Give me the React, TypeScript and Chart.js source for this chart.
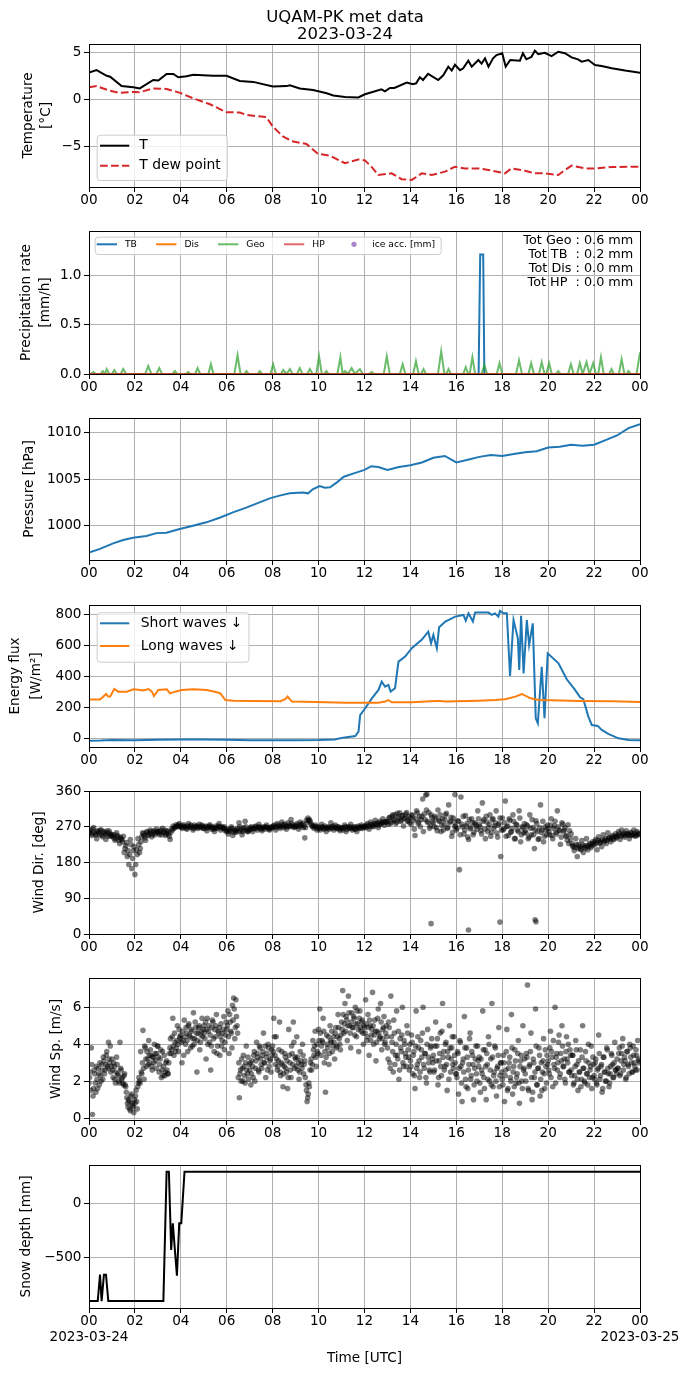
import React, { useEffect, useRef } from 'react';
import { Chart, registerables } from 'chart.js';

Chart.register(...registerables);

const FONT = 'DejaVu Sans';
Chart.defaults.font.family = FONT;
Chart.defaults.color = '#000';

// ---------------- DATA ----------------
const TITLE_LINES = ['UQAM-PK met data', '2023-03-24'];
const X_TICKS = [0, 2, 4, 6, 8, 10, 12, 14, 16, 18, 20, 22, 24];
const X_TICK_LABELS = ['00', '02', '04', '06', '08', '10', '12', '14', '16', '18', '20', '22', '00'];
const DATE_LABELS = ['2023-03-24', '2023-03-25'];

const tempHours = [0, 0.33, 0.77, 0.92, 1.42, 1.93, 2.21, 2.8, 3.02, 3.38, 3.67, 3.89, 4.25, 4.54, 5.4, 5.99, 6.57, 7.15, 8.01, 8.6, 8.75, 9.18, 9.76, 10.35, 10.64, 11.15, 11.73, 12.02, 12.74, 12.89, 13.11, 13.3, 13.84, 14.1, 14.25, 14.41, 14.55, 14.77, 15.21, 15.43, 15.65, 15.8, 15.94, 16.16, 16.3, 16.52, 16.67, 16.96, 17.1, 17.25, 17.4, 17.6, 17.75, 18.0, 18.15, 18.35, 18.77, 18.9, 19.05, 19.27, 19.42, 19.57, 19.85, 20.15, 20.44, 20.73, 21.02, 21.3, 21.46, 21.75, 22.04, 22.33, 22.77, 23.35, 24];
const tempValues = [2.83, 3.1, 2.5, 2.4, 1.4, 1.28, 1.16, 2.05, 2.0, 2.7, 2.7, 2.34, 2.45, 2.6, 2.5, 2.5, 1.95, 1.85, 1.35, 1.4, 1.5, 1.15, 0.98, 0.64, 0.4, 0.25, 0.2, 0.53, 1.06, 0.85, 1.2, 1.2, 1.77, 1.6, 1.7, 2.34, 2.05, 2.7, 2.05, 2.55, 3.47, 3.05, 3.67, 3.1, 3.3, 4.1, 3.47, 4.18, 3.8, 4.36, 3.47, 4.36, 4.7, 4.9, 3.47, 4.18, 4.1, 4.9, 4.25, 4.5, 5.17, 4.8, 4.95, 4.6, 5.06, 4.9, 4.45, 4.25, 4.0, 4.18, 3.65, 3.55, 3.3, 3.05, 2.83];
const dewHours = [0, 0.33, 0.92, 1.35, 1.93, 2.2, 2.8, 3.38, 3.97, 4.54, 5.27, 5.99, 6.57, 6.86, 7.73, 8.0, 8.46, 8.9, 9.47, 9.97, 10.5, 11.15, 11.73, 12.02, 12.3, 12.6, 13.18, 13.62, 14.06, 14.5, 14.93, 15.51, 15.94, 16.38, 16.96, 17.4, 18.12, 18.4, 18.98, 19.42, 19.86, 20.44, 20.73, 21.02, 21.6, 22.04, 22.77, 24];
const dewValues = [1.28, 1.4, 0.9, 0.68, 0.78, 0.75, 1.15, 1.1, 0.68, 0.1, -0.53, -1.38, -1.4, -1.67, -1.9, -2.9, -3.98, -4.5, -4.75, -5.8, -6.0, -6.8, -6.4, -6.5, -7.17, -8.05, -7.88, -8.5, -8.58, -7.88, -8.05, -7.7, -7.17, -7.35, -7.35, -7.52, -7.88, -7.35, -7.6, -7.88, -7.88, -8.05, -7.52, -7.06, -7.35, -7.35, -7.2, -7.17];
const tempTicks = [-5, 0, 5];
const tempTickLabels = ['\u22125', '0', '5'];

const tbSeries = [[0, 0], [16.97, 0], [17.04, 1.21], [17.17, 1.21], [17.22, 0], [24, 0]];
const disSeries = [[0, 0], [24, 0]];
const hpSeries = [[0, 0], [24, 0]];
const geoSeries = [
  [0, 0], [0.08, 0], [0.19, 0.02], [0.3, 0], [0.5, 0], [0.6, 0.03], [0.7, 0], [0.77, 0.05], [0.88, 0],
  [1.0, 0], [1.1, 0.04], [1.22, 0], [1.38, 0], [1.49, 0.05], [1.62, 0], [2.45, 0], [2.58, 0.08], [2.72, 0],
  [2.94, 0], [3.06, 0.06], [3.18, 0], [3.63, 0], [3.74, 0.03], [3.85, 0], [4.22, 0], [4.32, 0.02], [4.42, 0],
  [4.62, 0], [4.73, 0.06], [4.84, 0], [5.2, 0], [5.31, 0.1], [5.42, 0], [6.33, 0], [6.47, 0.19], [6.6, 0],
  [6.76, 0], [6.86, 0.03], [6.96, 0], [7.34, 0], [7.44, 0.03], [7.54, 0], [7.9, 0], [8.02, 0.1], [8.14, 0],
  [8.36, 0], [8.46, 0.04], [8.6, 0], [8.75, 0.05], [8.87, 0], [9.06, 0], [9.18, 0.06], [9.3, 0],
  [9.5, 0], [9.62, 0.05], [9.74, 0], [9.9, 0], [10.02, 0.18], [10.14, 0], [10.24, 0], [10.34, 0.03], [10.44, 0],
  [10.82, 0], [10.95, 0.17], [11.05, 0], [11.15, 0.03], [11.28, 0], [11.44, 0.06], [11.58, 0], [11.8, 0.05], [11.92, 0],
  [12.2, 0], [12.31, 0.02], [12.42, 0], [12.84, 0], [12.97, 0.18], [13.1, 0], [13.54, 0], [13.66, 0.1], [13.78, 0],
  [14.12, 0], [14.24, 0.13], [14.36, 0], [14.47, 0], [14.57, 0.05], [14.68, 0], [15.2, 0], [15.34, 0.23], [15.48, 0],
  [15.56, 0], [15.66, 0.05], [15.76, 0], [16.3, 0], [16.41, 0.07], [16.52, 0], [16.58, 0], [16.7, 0.17], [16.82, 0],
  [17.1, 0], [17.22, 0.09], [17.34, 0], [17.76, 0], [17.88, 0.11], [18.0, 0], [18.6, 0], [18.73, 0.14], [18.86, 0],
  [19.14, 0], [19.26, 0.11], [19.38, 0], [19.6, 0], [19.72, 0.12], [19.84, 0], [19.92, 0], [20.04, 0.11], [20.16, 0],
  [20.34, 0], [20.44, 0.03], [20.54, 0], [20.87, 0], [20.99, 0.1], [21.11, 0], [21.26, 0], [21.38, 0.11], [21.5, 0],
  [21.67, 0.12], [21.8, 0], [21.96, 0.11], [22.08, 0], [22.18, 0], [22.3, 0.17], [22.42, 0], [22.66, 0], [22.76, 0.05], [22.86, 0],
  [23.08, 0], [23.2, 0.15], [23.32, 0], [23.42, 0], [23.5, 0.03], [23.6, 0], [23.85, 0], [24, 0.22],
];
const precipTotals = ['Tot Geo : 0.6 mm', 'Tot TB  : 0.2 mm', 'Tot Dis : 0.0 mm', 'Tot HP  : 0.0 mm'];
const precipTicks = [0, 0.5, 1.0];
const precipTickLabels = ['0.0', '0.5', '1.0'];

const pressureSeries = [
  [0, 997.1], [0.48, 997.5], [1.05, 998.1], [1.49, 998.46], [1.92, 998.7], [2.5, 998.9], [2.94, 999.2], [3.37, 999.25],
  [3.95, 999.64], [4.53, 1000], [5.11, 1000.36], [5.69, 1000.86], [6.27, 1001.43], [6.85, 1001.94], [7.43, 1002.5],
  [7.87, 1002.94], [8.3, 1003.23], [8.74, 1003.48], [9.32, 1003.58], [9.54, 1003.48], [9.76, 1003.94], [10.05, 1004.26],
  [10.27, 1004.09], [10.5, 1004.12], [10.8, 1004.66], [11.1, 1005.27], [11.5, 1005.6], [12, 1006.0], [12.3, 1006.4],
  [12.6, 1006.3], [13, 1006.0], [13.5, 1006.3], [14, 1006.5], [14.5, 1006.8], [15, 1007.3], [15.5, 1007.5], [16, 1006.8],
  [16.5, 1007.1], [17, 1007.4], [17.5, 1007.6], [18, 1007.5], [18.5, 1007.7], [19, 1007.9], [19.5, 1008.0], [20, 1008.4],
  [20.5, 1008.5], [21, 1008.7], [21.5, 1008.6], [22, 1008.7], [22.5, 1009.2], [23, 1009.7], [23.5, 1010.5], [24, 1010.9],
];
const pressureTicks = [1000, 1005, 1010];
const pressureTickLabels = ['1000', '1005', '1010'];

const shortWaveSeries = [
  [0, -15], [0.5, -14], [1, -11], [2, -13], [3, -10], [4, -8], [5, -8], [6, -9], [7, -12], [8, -12], [9, -12], [10, -11],
  [10.7, -8], [11.0, 2], [11.15, 6], [11.6, 15], [11.74, 43], [11.81, 150], [12.03, 194], [12.32, 258], [12.61, 312],
  [12.75, 366], [12.9, 333], [13.04, 344], [13.14, 301], [13.33, 323], [13.48, 495], [13.77, 527], [14.06, 581],
  [14.49, 635], [14.78, 688], [14.9, 613], [15.0, 667], [15.15, 581], [15.25, 716], [15.52, 753], [15.95, 785],
  [16.31, 796], [16.41, 759], [16.53, 806], [16.72, 753], [16.82, 811], [17.4, 811], [17.54, 796], [17.69, 806],
  [17.83, 785], [17.9, 822], [18.05, 806], [18.2, 806], [18.34, 402], [18.49, 763], [18.68, 645], [18.74, 441],
  [18.82, 790], [18.93, 419], [19.07, 763], [19.17, 602], [19.33, 742], [19.46, 129], [19.55, 97], [19.72, 462],
  [19.84, 129], [19.98, 548], [20.45, 484], [20.81, 381], [21.17, 312], [21.39, 265], [21.53, 252], [21.75, 140],
  [21.9, 86], [22.16, 80], [22.33, 54], [22.62, 28], [23.06, 0], [23.5, -11], [24, -13],
];
const longWaveSeries = [
  [0, 251], [0.48, 251], [0.55, 258], [0.74, 286], [0.84, 269], [0.92, 269], [1.1, 318], [1.28, 301], [1.64, 301],
  [1.94, 316], [2.22, 312], [2.36, 308], [2.59, 318], [2.74, 301], [2.83, 273], [3.02, 312], [3.39, 316], [3.53, 290],
  [3.75, 301], [4.04, 312], [4.55, 316], [5.13, 312], [5.57, 297], [5.72, 290], [5.94, 247], [6.3, 243], [7.17, 241],
  [8.33, 239], [8.55, 252], [8.65, 269], [8.84, 237], [9.93, 234], [11.16, 230], [12.6, 230], [12.9, 237], [13.04, 247],
  [13.19, 232], [14.06, 232], [15.08, 241], [15.3, 241], [15.52, 237], [16.97, 243], [17.7, 247], [18.13, 252],
  [18.57, 269], [18.86, 286], [19.23, 258], [19.59, 247], [20.17, 245], [21.33, 241], [22.78, 239], [24, 234],
];
const fluxTicks = [0, 200, 400, 600, 800];
const fluxTickLabels = ['0', '200', '400', '600', '800'];

// wind direction, samples read per hour (two interleaved readings)
const windDirByHour = [
  [255, 262, 248, 268, 252, 240, 258, 250, 262, 245, 256, 238, 252, 260, 247],
  [250, 242, 236, 255, 244, 228, 240, 232, 205, 222, 195, 175, 238, 165, 210],
  [150, 212, 240, 205, 232, 255, 248, 236, 258, 250, 262, 245, 256, 250, 264],
  [258, 250, 262, 266, 255, 248, 260, 252, 238, 265, 272, 268, 275, 270, 278],
  [272, 266, 275, 270, 264, 278, 268, 272, 262, 274, 270, 266, 276, 268, 272],
  [266, 272, 260, 270, 275, 264, 268, 258, 272, 266, 278, 262, 270, 266, 260],
  [258, 252, 264, 270, 248, 262, 256, 266, 280, 260, 250, 268, 284, 262, 258],
  [264, 270, 258, 266, 272, 262, 276, 268, 260, 270, 264, 274, 268, 262, 270],
  [268, 274, 262, 278, 270, 266, 282, 272, 276, 264, 280, 270, 288, 274, 268],
  [270, 278, 264, 282, 274, 268, 242, 286, 292, 288, 278, 270, 266, 274, 262],
  [270, 262, 276, 266, 272, 258, 268, 264, 280, 270, 262, 274, 266, 270, 260],
  [268, 262, 274, 258, 270, 266, 276, 262, 270, 264, 258, 272, 266, 274, 270],
  [272, 268, 278, 264, 282, 274, 270, 286, 276, 268, 284, 278, 290, 274, 282],
  [284, 292, 278, 296, 288, 300, 282, 294, 305, 286, 298, 290, 302, 284, 296],
  [292, 300, 286, 248, 310, 278, 296, 288, 340, 302, 350, 284, 306, 272, 294],
  [280, 296, 268, 312, 284, 258, 290, 276, 300, 266, 325, 284, 246, 292, 270],
  [262, 285, 162, 345, 270, 252, 298, 278, 238, 265, 290, 250, 280, 272, 310],
  [275, 260, 330, 288, 240, 282, 268, 300, 256, 290, 272, 310, 244, 278, 195],
  [292, 265, 335, 270, 248, 286, 258, 300, 240, 276, 262, 310, 232, 270, 255],
  [260, 275, 240, 300, 250, 268, 215, 285, 258, 240, 325, 262, 232, 270, 250],
  [265, 250, 290, 240, 272, 256, 310, 262, 226, 280, 258, 268, 248, 275, 260],
  [252, 220, 210, 240, 195, 225, 215, 235, 205, 222, 240, 212, 228, 218, 232],
  [225, 238, 212, 245, 230, 220, 250, 235, 228, 255, 242, 232, 248, 238, 252],
  [245, 258, 238, 262, 250, 244, 260, 252, 240, 256, 248, 262, 246, 258, 250],
];
const windDirByHourB = [
  [258, 252, 264, 256, 250, 260, 254, 262, 248, 257, 251, 259, 246, 255, 250],
  [246, 250, 240, 248, 236, 244, 238, 246, 215, 230, 210, 200, 225, 190, 220],
  [175, 200, 225, 215, 245, 252, 242, 256, 248, 254, 258, 250, 260, 255, 258],
  [254, 258, 250, 256, 262, 252, 258, 246, 256, 262, 266, 270, 272, 274, 270],
  [268, 272, 270, 266, 272, 270, 274, 268, 266, 270, 272, 268, 270, 274, 266],
  [270, 266, 268, 272, 268, 270, 264, 266, 268, 272, 270, 268, 266, 270, 264],
  [262, 258, 260, 266, 256, 260, 262, 258, 270, 264, 258, 262, 270, 258, 262],
  [268, 264, 266, 270, 266, 268, 270, 264, 266, 268, 270, 268, 264, 266, 268],
  [272, 270, 268, 274, 272, 270, 276, 268, 272, 270, 274, 272, 278, 270, 272],
  [274, 272, 270, 276, 278, 272, 268, 280, 286, 284, 274, 272, 270, 270, 266],
  [266, 268, 270, 264, 268, 266, 270, 268, 266, 272, 268, 266, 270, 264, 266],
  [266, 268, 270, 264, 268, 270, 266, 268, 264, 270, 266, 268, 270, 266, 268],
  [270, 274, 272, 270, 276, 272, 278, 276, 280, 274, 278, 282, 280, 284, 282],
  [276, 294, 282, 300, 286, 278, 304, 290, 284, 298, 272, 292, 306, 286, 280],
  [276, 298, 264, 290, 305, 282, 270, 296, 258, 288, 312, 280, 266, 300, 284],
  [270, 292, 260, 286, 300, 274, 262, 288, 304, 268, 280, 294, 256, 282, 272],
  [266, 284, 250, 276, 296, 262, 272, 244, 288, 268, 280, 256, 276, 264, 290],
  [270, 252, 284, 264, 296, 258, 276, 246, 288, 266, 280, 254, 274, 292, 262],
  [262, 280, 246, 272, 290, 256, 266, 284, 240, 274, 258, 292, 250, 268, 278],
  [254, 272, 244, 266, 288, 250, 262, 278, 238, 268, 256, 284, 246, 262, 274],
  [258, 274, 248, 266, 284, 252, 270, 260, 244, 276, 262, 246, 236, 228, 240],
  [228, 222, 218, 225, 215, 220, 212, 224, 218, 216, 222, 220, 226, 222, 228],
  [232, 228, 236, 230, 234, 238, 232, 240, 236, 242, 238, 244, 240, 246, 242],
  [248, 252, 246, 250, 254, 248, 252, 250, 248, 254, 250, 252, 248, 254, 252],
];
const windDirOutliers = [[14.9, 26], [16.53, 10], [17.9, 30], [19.43, 36], [19.47, 31], [15.94, 351], [14.72, 352]];
const windDirTicks = [0, 90, 180, 270, 360];
const windDirTickLabels = ['0', '90', '180', '270', '360'];

const windSpeedByHour = [
  [1.9, 2.5, 3.8, 0.2, 1.6, 2.4, 1.4, 2.1, 2.7, 1.8, 2.3, 2.9, 2.1, 3.1, 2.6, 3.4, 2.8, 4.1, 3.0, 2.5],
  [3.2, 2.2, 2.8, 1.9, 3.3, 2.4, 2.0, 4.1, 2.6, 2.2, 1.8, 2.4, 1.7, 1.1, 0.6, 0.9, 0.4, 1.3, 0.7, 0.3],
  [0.8, 1.5, 0.5, 1.9, 2.0, 3.6, 2.4, 4.75, 2.1, 3.8, 2.8, 3.2, 4.2, 3.0, 3.4, 2.6, 3.3, 4.0, 3.1, 3.5],
  [3.9, 2.5, 3.2, 2.2, 3.6, 2.8, 2.3, 3.0, 2.6, 2.4, 3.5, 4.3, 3.7, 5.4, 3.4, 4.1, 3.8, 5.0, 3.6, 4.4],
  [4.5, 3.0, 4.2, 5.3, 4.0, 4.6, 3.6, 5.1, 4.4, 4.8, 3.9, 5.7, 4.3, 4.9, 2.5, 4.6, 5.0, 4.1, 4.7, 4.4],
  [5.0, 4.3, 3.2, 5.4, 4.7, 4.1, 2.6, 4.9, 5.2, 3.6, 4.4, 5.6, 3.9, 4.6, 3.4, 5.1, 4.2, 4.8, 3.7, 4.5],
  [4.8, 5.8, 3.5, 5.2, 4.6, 6.1, 6.5, 4.3, 6.4, 5.0, 2.2, 1.1, 2.6, 3.2, 2.0, 2.8, 1.9, 3.9, 2.4, 2.1],
  [2.6, 1.8, 3.1, 2.2, 3.6, 2.7, 4.1, 3.3, 2.5, 3.8, 2.9, 3.4, 4.6, 3.0, 2.2, 3.5, 4.0, 2.8, 3.2, 3.7],
  [3.9, 5.4, 3.4, 4.4, 2.6, 3.1, 5.2, 2.3, 3.6, 1.7, 2.8, 3.3, 2.5, 1.6, 4.8, 3.0, 2.2, 3.5, 5.2, 2.7],
  [3.2, 4.4, 2.6, 2.1, 3.6, 2.9, 4.0, 2.4, 3.1, 1.8, 0.9, 1.3, 1.7, 3.0, 2.6, 4.2, 3.4, 4.7, 2.8, 3.6],
  [4.8, 5.9, 3.4, 4.2, 5.4, 3.0, 1.4, 4.5, 3.8, 2.9, 5.0, 4.1, 3.6, 4.4, 3.2, 4.9, 3.9, 5.6, 4.3, 3.7],
  [5.2, 6.9, 4.6, 6.2, 5.5, 4.2, 6.6, 5.0, 3.8, 5.7, 4.9, 5.4, 6.0, 4.4, 5.1, 3.6, 5.8, 4.7, 5.3, 4.0],
  [4.9, 6.4, 4.2, 5.6, 3.4, 5.0, 4.5, 6.8, 4.0, 5.3, 3.1, 4.7, 5.9, 4.3, 6.2, 3.7, 4.8, 5.5, 4.1, 5.0],
  [3.8, 5.2, 3.0, 6.6, 4.1, 2.5, 4.6, 3.4, 5.8, 3.2, 2.1, 4.3, 3.6, 6.0, 2.8, 4.0, 3.3, 5.0, 3.7, 2.6],
  [3.1, 4.5, 2.4, 3.6, 1.6, 5.8, 2.9, 3.8, 2.2, 4.2, 3.3, 6.0, 2.7, 3.5, 1.9, 4.8, 3.0, 2.5, 3.9, 3.2],
  [3.4, 2.6, 5.2, 3.9, 1.8, 3.1, 4.6, 2.3, 6.2, 3.6, 2.8, 4.1, 1.5, 3.3, 5.0, 2.5, 3.8, 2.9, 4.4, 3.0],
  [2.4, 3.6, 1.3, 4.2, 2.8, 0.9, 3.2, 5.5, 2.1, 3.8, 1.6, 2.9, 4.6, 2.3, 3.4, 1.0, 2.7, 3.9, 2.0, 3.1],
  [3.3, 1.4, 2.6, 5.8, 2.2, 3.7, 1.0, 2.9, 4.4, 2.0, 3.2, 6.2, 1.7, 2.5, 3.8, 1.2, 2.8, 4.9, 2.3, 3.0],
  [2.1, 3.4, 0.9, 2.6, 4.8, 1.6, 3.0, 2.2, 5.6, 1.3, 2.8, 3.7, 1.9, 2.4, 4.2, 0.8, 3.1, 2.0, 5.0, 2.7],
  [2.4, 3.5, 7.2, 1.5, 2.9, 4.6, 1.0, 3.2, 2.2, 5.9, 1.8, 2.7, 3.8, 1.2, 3.0, 2.5, 4.3, 1.6, 2.8, 3.4],
  [3.1, 2.4, 4.7, 3.6, 1.7, 2.9, 6.0, 3.3, 2.6, 4.1, 2.2, 3.5, 5.0, 2.8, 3.2, 1.9, 4.4, 3.0, 2.5, 3.7],
  [2.6, 3.4, 1.8, 2.3, 4.2, 2.9, 1.5, 2.5, 3.7, 2.1, 5.0, 2.7, 1.9, 3.1, 2.4, 4.0, 2.2, 2.8, 1.6, 3.3],
  [2.3, 3.0, 1.9, 2.6, 4.5, 2.1, 2.8, 1.4, 3.3, 2.5, 2.0, 3.8, 2.7, 1.7, 2.4, 3.5, 2.9, 2.2, 4.1, 2.6],
  [3.2, 2.7, 3.8, 2.4, 3.5, 4.3, 2.9, 3.1, 2.2, 3.6, 2.8, 4.0, 3.3, 2.5, 3.9, 3.0, 2.6, 3.4, 4.2, 3.1],
];
const windSpeedByHourB = [
  [2.2, 1.5, 2.9, 1.2, 2.6, 1.9, 2.8, 1.6, 2.4, 3.0, 2.0, 2.6, 3.3, 2.4, 2.9, 3.6, 2.7, 3.2, 3.9, 2.8],
  [2.6, 3.0, 2.1, 2.5, 2.9, 2.3, 1.9, 2.7, 2.1, 1.9, 2.3, 1.8, 1.4, 0.8, 1.0, 0.5, 1.2, 0.8, 0.6, 1.0],
  [1.2, 0.9, 1.7, 2.2, 1.9, 2.5, 3.0, 2.7, 3.9, 3.2, 3.6, 2.9, 3.4, 3.7, 2.8, 3.3, 3.0, 3.5, 2.7, 3.9],
  [3.3, 2.9, 3.7, 2.6, 2.3, 3.4, 2.5, 3.1, 2.4, 3.0, 3.8, 3.5, 4.4, 3.9, 4.6, 3.6, 4.2, 4.0, 4.8, 4.3],
  [4.1, 4.7, 3.4, 4.4, 4.9, 4.2, 5.0, 4.5, 3.8, 4.7, 4.3, 4.0, 5.2, 4.6, 4.2, 4.9, 3.7, 4.5, 5.4, 4.8],
  [4.6, 5.2, 4.8, 4.0, 5.0, 4.5, 3.9, 5.3, 4.3, 4.8, 5.0, 3.5, 4.7, 4.9, 4.4, 3.9, 4.6, 5.5, 4.1, 5.2],
  [5.0, 4.4, 5.6, 4.7, 3.8, 5.3, 5.9, 4.9, 5.5, 4.6, 3.0, 2.4, 2.0, 2.7, 3.4, 2.3, 3.0, 2.6, 3.3, 2.9],
  [3.0, 2.4, 2.8, 3.4, 2.0, 3.1, 3.5, 2.6, 3.9, 3.2, 2.7, 3.6, 3.0, 3.9, 3.3, 2.6, 3.8, 3.1, 2.5, 3.4],
  [3.6, 4.4, 2.9, 3.2, 2.8, 3.7, 2.5, 3.0, 2.9, 2.4, 3.5, 2.7, 3.1, 2.2, 3.4, 2.6, 3.9, 2.9, 4.1, 3.3],
  [2.8, 3.3, 3.0, 2.5, 3.1, 2.7, 3.4, 2.9, 2.2, 1.5, 1.1, 1.9, 2.6, 3.2, 2.9, 3.7, 3.9, 3.3, 4.0, 3.5],
  [4.2, 4.6, 3.9, 4.1, 4.7, 3.6, 3.3, 4.0, 4.4, 3.5, 4.2, 4.7, 3.9, 4.1, 4.6, 3.8, 4.4, 4.9, 4.0, 4.5],
  [4.8, 5.6, 5.1, 4.7, 5.3, 5.0, 5.7, 4.6, 5.2, 4.9, 5.5, 4.5, 5.1, 5.8, 4.8, 5.4, 4.9, 5.2, 4.6, 5.0],
  [4.6, 5.1, 4.4, 4.9, 5.3, 4.2, 4.8, 5.0, 4.5, 4.7, 4.1, 5.4, 4.6, 4.4, 5.2, 4.3, 4.9, 4.0, 4.6, 4.4],
  [3.2, 4.9, 2.7, 4.4, 3.6, 5.3, 2.9, 4.0, 3.4, 4.7, 2.6, 3.8, 4.5, 3.0, 4.2, 3.5, 2.8, 4.6, 3.3, 4.0],
  [2.8, 4.1, 3.4, 2.3, 3.9, 2.7, 4.4, 3.1, 2.5, 3.7, 4.6, 2.9, 3.5, 2.2, 4.0, 3.3, 2.6, 3.8, 4.3, 3.0],
  [2.5, 3.9, 3.1, 4.3, 2.2, 3.5, 2.8, 4.7, 3.3, 2.6, 4.0, 2.9, 3.6, 2.1, 3.8, 3.2, 4.4, 2.7, 3.4, 2.4],
  [2.2, 3.5, 2.7, 4.1, 1.9, 3.0, 2.5, 3.8, 1.7, 3.3, 2.6, 4.3, 2.1, 3.6, 2.9, 1.8, 3.2, 2.4, 3.9, 2.8],
  [1.9, 3.2, 2.4, 3.7, 1.6, 2.8, 3.5, 2.1, 4.0, 2.6, 1.8, 3.3, 2.3, 3.9, 2.0, 2.7, 3.4, 1.7, 3.0, 2.5],
  [1.8, 3.0, 2.3, 3.6, 1.5, 2.7, 3.3, 2.0, 3.8, 2.5, 1.7, 3.1, 2.2, 3.5, 1.9, 2.8, 3.4, 1.6, 2.6, 3.2],
  [2.0, 3.3, 1.6, 2.8, 3.6, 2.2, 1.4, 3.0, 2.5, 3.9, 1.8, 2.7, 3.4, 2.1, 1.5, 3.1, 2.4, 3.7, 1.9, 2.9],
  [2.6, 3.8, 2.2, 3.3, 4.2, 2.7, 1.9, 3.5, 3.0, 4.5, 2.4, 3.1, 3.9, 2.8, 2.1, 3.6, 3.2, 4.0, 2.5, 3.4],
  [2.3, 3.4, 1.9, 2.8, 3.7, 2.1, 3.1, 2.5, 1.7, 3.3, 2.7, 2.0, 3.6, 2.4, 1.8, 3.0, 2.6, 3.9, 2.2, 2.9],
  [2.1, 3.2, 1.8, 2.7, 3.5, 2.3, 2.9, 1.6, 3.3, 2.5, 2.0, 3.7, 2.4, 1.9, 2.8, 3.4, 2.2, 3.0, 2.6, 2.4],
  [2.7, 3.5, 2.3, 3.1, 3.9, 2.6, 3.3, 2.1, 3.6, 2.9, 2.4, 3.8, 3.0, 2.5, 3.4, 2.8, 3.7, 2.6, 3.2, 3.0],
];
const windSpeedTicks = [0, 2, 4, 6];
const windSpeedTickLabels = ['0', '2', '4', '6'];

const snowSeries = [
  [0, -905], [0.38, -905], [0.48, -660], [0.55, -905], [0.65, -660], [0.74, -660], [0.84, -905], [3.24, -905],
  [3.38, 293], [3.48, 293], [3.58, -432], [3.65, -185], [3.83, -670], [3.93, -185], [4.02, -185], [4.16, 293], [24, 293],
];
const snowTicks = [-500, 0];
const snowTickLabels = ['\u2212500', '0'];

// ---------------- HELPERS ----------------
const TICK_FONT = { family: FONT, size: 13.6, lineHeight: 1.2 };
const GRID = { color: '#b0b0b0', lineWidth: 1, tickColor: '#000', tickLength: 5, tickWidth: 1, drawTicks: true };

const toXY = (pts: number[][]) => pts.map(([x, y]) => ({ x, y }));
const zipXY = (xs: number[], ys: number[]) => xs.map((x, i) => ({ x, y: ys[i] }));
// samples of each hourly row are spread evenly within that hour; `phase` shifts the second reading set
const byHour = (rows: number[][], phase = 0) => {
  const out: { x: number; y: number }[] = [];
  rows.forEach((row, h) => row.forEach((v, j) => out.push({ x: h + (j + phase) / row.length, y: v })));
  return out;
};

function xAxis(last: boolean) {
  return {
    type: 'linear', min: 0, max: 24, bounds: 'data',
    afterBuildTicks: (ax: any) => { ax.ticks = X_TICKS.map((v) => ({ value: v })); },
    afterFit: (ax: any) => { ax.height = last ? 69 : 30; },
    ticks: {
      autoSkip: false, maxRotation: 0, minRotation: 0, padding: 0, color: '#000', font: TICK_FONT,
      callback: (_v: any, i: number) => {
        if (last && i === 0) return [X_TICK_LABELS[i], DATE_LABELS[0]];
        if (last && i === X_TICKS.length - 1) return [X_TICK_LABELS[i], DATE_LABELS[1]];
        return X_TICK_LABELS[i];
      },
    },
    grid: GRID,
    border: { display: false },
    title: last
      ? { display: true, text: 'Time [UTC]', color: '#000', font: TICK_FONT, padding: { top: 0, bottom: 10 } }
      : { display: false },
  };
}

function yAxis(o: { min: number; max: number; ticks: number[]; labels: string[]; title: string | string[]; lh: number; pad: number }) {
  return {
    type: 'linear', min: o.min, max: o.max, bounds: 'data',
    afterBuildTicks: (ax: any) => { ax.ticks = o.ticks.map((v) => ({ value: v })); },
    afterFit: (ax: any) => { ax.width = 89; },
    ticks: { padding: 2.5, color: '#000', font: TICK_FONT, callback: (_v: any, i: number) => o.labels[i] },
    grid: GRID,
    border: { display: false },
    title: {
      display: true, text: o.title, color: '#000',
      font: { family: FONT, size: 13.6, lineHeight: `${o.lh}px` },
      padding: { top: o.pad, bottom: 0 },
    },
  };
}

function lineDs(label: string, data: any[], color: string, width = 2, dash?: number[]) {
  return {
    label, data, borderColor: color, backgroundColor: color, borderWidth: width,
    borderDash: dash || [], pointRadius: 0, tension: 0, fill: false, clip: 0,
  };
}

function ordered(dsets: any[]) {
  return dsets.map((d, i) => ({ ...d, order: dsets.length - i }));
}

const framePlugin = {
  id: 'mplFrame',
  afterDatasetsDraw(chart: any) {
    const { ctx, chartArea: a } = chart;
    ctx.save();
    ctx.strokeStyle = '#000';
    ctx.lineWidth = 1;
    ctx.strokeRect(a.left + 0.5, a.top + 0.5, a.right - a.left, a.bottom - a.top);
    ctx.restore();
  },
};

type LegendCfg = {
  corner: 'tl' | 'bl'; dx: number; dy: number; size: number;
  handleX: number; handleLen: number; textGap: number; rowGap: number;
  padTop: number; padBottom: number; padRight: number;
  horizontal?: boolean; colSpacing?: number; boxH?: number;
};

function mplLegend(cfg: LegendCfg) {
  return {
    id: 'mplLegend',
    afterDraw(chart: any) {
      const { ctx, chartArea: a } = chart;
      const items = chart.data.datasets.filter((d: any) => d.label);
      ctx.save();
      ctx.font = `${cfg.size}px "${FONT}"`;
      const widths = items.map((d: any) => ctx.measureText(d.label).width);
      let w: number;
      let h: number;
      if (cfg.horizontal) {
        w = cfg.handleX + widths.reduce((s: number, tw: number, i: number) => s + cfg.handleLen + cfg.textGap + tw + (i ? (cfg.colSpacing || 0) : 0), 0) + cfg.padRight;
        h = cfg.boxH || 18;
      } else {
        w = cfg.handleX + cfg.handleLen + cfg.textGap + Math.max(...widths) + cfg.padRight;
        h = cfg.padTop + cfg.rowGap * (items.length - 1) + cfg.padBottom;
      }
      const x0 = a.left + cfg.dx;
      const y0 = cfg.corner === 'tl' ? a.top + cfg.dy : a.bottom - cfg.dy - h;
      ctx.beginPath();
      if (ctx.roundRect) ctx.roundRect(x0 + 0.5, y0 + 0.5, w, h, 3);
      else ctx.rect(x0 + 0.5, y0 + 0.5, w, h);
      ctx.fillStyle = 'rgba(255,255,255,0.8)';
      ctx.fill();
      ctx.strokeStyle = '#cccccc';
      ctx.lineWidth = 1;
      ctx.stroke();
      ctx.textBaseline = 'middle';
      ctx.textAlign = 'left';
      let cx = x0 + cfg.handleX;
      items.forEach((d: any, i: number) => {
        const cy = cfg.horizontal ? y0 + cfg.padTop : y0 + cfg.padTop + cfg.rowGap * i;
        const hx = cfg.horizontal ? cx : x0 + cfg.handleX;
        if (d.legendMarker === 'dot') {
          ctx.beginPath();
          ctx.arc(hx + cfg.handleLen / 2, cy, 2.6, 0, Math.PI * 2);
          ctx.fillStyle = d.pointBackgroundColor;
          ctx.fill();
        } else {
          ctx.beginPath();
          ctx.setLineDash(d.borderDash || []);
          ctx.strokeStyle = d.borderColor;
          ctx.lineWidth = d.borderWidth;
          ctx.moveTo(hx, cy);
          ctx.lineTo(hx + cfg.handleLen, cy);
          ctx.stroke();
          ctx.setLineDash([]);
        }
        ctx.fillStyle = '#000';
        ctx.fillText(d.label, hx + cfg.handleLen + cfg.textGap, cy);
        cx = hx + cfg.handleLen + cfg.textGap + widths[i] + (cfg.colSpacing || 0);
      });
      ctx.restore();
    },
  };
}

type TextItem = { text: string; x: number; y: number; xRef: 'center' | 'areaRight'; yRef: 'canvas' | 'areaTop'; align: CanvasTextAlign; size: number };
function textPlugin(items: TextItem[]) {
  return {
    id: 'mplText',
    afterDraw(chart: any) {
      const { ctx, chartArea: a } = chart;
      ctx.save();
      ctx.fillStyle = '#000';
      ctx.textBaseline = 'alphabetic';
      items.forEach((t) => {
        ctx.font = `${t.size}px "${FONT}"`;
        ctx.textAlign = t.align;
        const x = t.xRef === 'center' ? chart.width / 2 + t.x : a.right + t.x;
        const y = t.yRef === 'canvas' ? t.y : a.top + t.y;
        ctx.fillText(t.text, x, y);
      });
      ctx.restore();
    },
  };
}

function baseOptions(padTop: number, x: any, y: any) {
  return {
    responsive: false, maintainAspectRatio: false, animation: false, events: [],
    layout: { padding: { left: 0, right: 50, top: padTop, bottom: 0 } },
    plugins: { legend: { display: false }, tooltip: { enabled: false }, title: { display: false } },
    scales: { x, y },
  };
}

const SCATTER_STYLE = {
  pointRadius: 2.8, pointBackgroundColor: 'rgba(0,0,0,0.5)', pointBorderWidth: 0,
  pointBorderColor: 'rgba(0,0,0,0)', showLine: false, clip: 0,
};

// ---------------- PANELS ----------------
function buildTemp() {
  return {
    type: 'line',
    data: {
      datasets: ordered([
        lineDs('T', zipXY(tempHours, tempValues), '#000000', 2),
        lineDs('T dew point', zipXY(dewHours, dewValues), '#d62728', 2, [7.7, 3.3]),
      ]),
    },
    options: baseOptions(44, xAxis(false), yAxis({ min: -9.33, max: 5.88, ticks: tempTicks, labels: tempTickLabels, title: ['Temperature', '[°C]'], lh: 18.4, pad: 19.1 })),
    plugins: [
      framePlugin,
      mplLegend({ corner: 'bl', dx: 7.7, dy: 7, size: 13.9, handleX: 3.3, handleLen: 29.3, textGap: 10, rowGap: 20, padTop: 11, padBottom: 14.3, padRight: 6 }),
      textPlugin([
        { text: TITLE_LINES[0], x: 0, y: 21.7, xRef: 'center', yRef: 'canvas', align: 'center', size: 16.5 },
        { text: TITLE_LINES[1], x: 0, y: 39.3, xRef: 'center', yRef: 'canvas', align: 'center', size: 16.5 },
      ]),
    ],
  };
}

function buildPrecip() {
  return {
    type: 'line',
    data: {
      datasets: ordered([
        lineDs('TB', toXY(tbSeries), '#1f77b4', 2),
        lineDs('Dis', toXY(disSeries), '#ff7f0e', 2),
        lineDs('Geo', toXY(geoSeries), 'rgba(44,160,44,0.7)', 2),
        lineDs('HP', toXY(hpSeries), 'rgba(214,39,40,0.7)', 2),
        { label: 'ice acc. [mm]', data: [], showLine: false, pointRadius: 2.6, pointBackgroundColor: 'rgba(148,103,189,0.8)', legendMarker: 'dot' },
      ]),
    },
    options: baseOptions(12, xAxis(false), yAxis({ min: 0, max: 1.449, ticks: precipTicks, labels: precipTickLabels, title: ['Precipitation rate', '[mm/h]'], lh: 18.3, pad: 17.55 })),
    plugins: [
      framePlugin,
      mplLegend({ corner: 'tl', dx: 5.7, dy: 5.7, size: 9.2, handleX: 2, handleLen: 20.3, textGap: 8, rowGap: 0, padTop: 7.6, padBottom: 0, padRight: 5.7, horizontal: true, colSpacing: 19.2, boxH: 17.3 }),
      textPlugin(precipTotals.map((t, i) => ({ text: t, x: -6.7, y: 13.3 + 14 * i, xRef: 'areaRight' as const, yRef: 'areaTop' as const, align: 'right' as CanvasTextAlign, size: 12.8 }))),
    ],
  };
}

function buildPressure() {
  return {
    type: 'line',
    data: { datasets: [lineDs('', toXY(pressureSeries), '#1f77b4', 2)] },
    options: baseOptions(12, xAxis(false), yAxis({ min: 996.31, max: 1011.58, ticks: pressureTicks, labels: pressureTickLabels, title: 'Pressure [hPa]', lh: 16, pad: 21 })),
    plugins: [framePlugin],
  };
}

function buildFlux() {
  return {
    type: 'line',
    data: {
      datasets: ordered([
        lineDs('Short waves \u2193', toXY(shortWaveSeries), '#1f77b4', 2),
        lineDs('Long waves \u2193', toXY(longWaveSeries), '#ff7f0e', 2),
      ]),
    },
    options: baseOptions(12, xAxis(false), yAxis({ min: -56, max: 860, ticks: fluxTicks, labels: fluxTickLabels, title: ['Energy flux', '[W/m\u00b2]'], lh: 21, pad: 5.2 })),
    plugins: [
      framePlugin,
      mplLegend({ corner: 'tl', dx: 7.7, dy: 7.3, size: 13.9, handleX: 3.3, handleLen: 29.3, textGap: 11.5, rowGap: 22.7, padTop: 11, padBottom: 15.7, padRight: 6 }),
    ],
  };
}

function buildWindDir() {
  return {
    type: 'scatter',
    data: {
      datasets: [
        { data: byHour(windDirByHour), ...SCATTER_STYLE },
        { data: byHour(windDirByHourB, 0.5), ...SCATTER_STYLE },
        { data: toXY(windDirOutliers), ...SCATTER_STYLE },
      ],
    },
    options: baseOptions(12, xAxis(false), yAxis({ min: 0, max: 360, ticks: windDirTicks, labels: windDirTickLabels, title: 'Wind Dir. [deg]', lh: 16, pad: 31 })),
    plugins: [framePlugin],
  };
}

function buildWindSpeed() {
  return {
    type: 'scatter',
    data: {
      datasets: [
        { data: byHour(windSpeedByHour), ...SCATTER_STYLE },
        { data: byHour(windSpeedByHourB, 0.5), ...SCATTER_STYLE },
      ],
    },
    options: baseOptions(12, xAxis(false), yAxis({ min: -0.1, max: 7.58, ticks: windSpeedTicks, labels: windSpeedTickLabels, title: 'Wind Sp. [m/s]', lh: 16, pad: 48.7 })),
    plugins: [framePlugin],
  };
}

function buildSnow() {
  return {
    type: 'line',
    data: { datasets: [lineDs('', toXY(snowSeries), '#000000', 2)] },
    options: baseOptions(12, xAxis(true), yAxis({ min: -969, max: 355, ticks: snowTicks, labels: snowTickLabels, title: 'Snow depth [mm]', lh: 16, pad: 18.7 })),
    plugins: [framePlugin],
  };
}

const PANELS = [
  { top: 0, height: 217, build: buildTemp },
  { top: 219, height: 185, build: buildPrecip },
  { top: 406, height: 184, build: buildPressure },
  { top: 593, height: 184, build: buildFlux },
  { top: 779, height: 185, build: buildWindDir },
  { top: 966, height: 184, build: buildWindSpeed },
  { top: 1153, height: 224, build: buildSnow },
];

export default function App() {
  const refs = useRef<(HTMLCanvasElement | null)[]>([]);
  useEffect(() => {
    document.body.style.margin = '0';
    const charts = PANELS.map((p, i) => new Chart(refs.current[i] as HTMLCanvasElement, p.build() as any));
    return () => charts.forEach((c) => c.destroy());
  }, []);
  return (
    <div style={{ position: 'relative', width: 690, height: 1377, background: '#fff', overflow: 'hidden' }}>
      {PANELS.map((p, i) => (
        <canvas
          key={i}
          ref={(el) => { refs.current[i] = el; }}
          width={690}
          height={p.height}
          style={{ position: 'absolute', left: 0, top: p.top, width: 690, height: p.height }}
        />
      ))}
    </div>
  );
}
